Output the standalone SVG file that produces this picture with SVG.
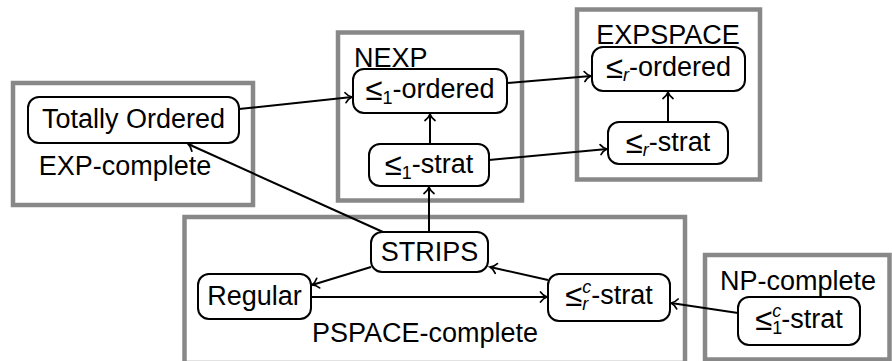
<svg xmlns="http://www.w3.org/2000/svg" width="892" height="361" viewBox="0 0 892 361">
<style>
.box{fill:none;stroke:#888;stroke-width:4.5}
.node rect{fill:#fff;stroke:#000;stroke-width:2}
.t{font-family:"Liberation Sans",Arial,sans-serif;font-size:27px;fill:#000}
.s{font-size:18px}
.le{font-size:31px}
.i{font-style:italic}
.e line{stroke:#000;stroke-width:2;marker-end:url(#ah)}
</style>
<defs>
<marker id="ah" markerUnits="userSpaceOnUse" markerWidth="14" markerHeight="14" viewBox="-8 -7 10 14" refX="0" refY="0" orient="auto">
<path d="M-6.5,-5 C-4.5,-2.2 -1.8,-0.6 0,0 C-1.8,0.6 -4.5,2.2 -6.5,5" fill="none" stroke="#000" stroke-width="1.7" stroke-linecap="round"/>
</marker>
</defs>
<g id="classes">
<g id="exp-box"><rect class="box" x="13" y="83" width="240" height="122"/><text class="t" x="125" y="175" text-anchor="middle">EXP-complete</text></g>
<g id="nexp-box"><rect class="box" x="338" y="32.5" width="184" height="168"/><text class="t" x="354" y="67">NEXP</text></g>
<g id="expspace-box"><rect class="box" x="577" y="9.5" width="183" height="170"/><text class="t" x="668" y="44" text-anchor="middle">EXPSPACE</text></g>
<g id="pspace-box"><rect class="box" x="184.5" y="217" width="500.5" height="146"/><text class="t" x="425" y="342" text-anchor="middle">PSPACE-complete</text></g>
<g id="np-box"><rect class="box" x="705" y="255" width="184.5" height="104.5"/><text class="t" x="798" y="290" text-anchor="middle">NP-complete</text></g>
</g>
<g id="connectors" class="e">
<line x1="239" y1="109" x2="352" y2="97"/>
<line x1="507" y1="83" x2="591" y2="76"/>
<line x1="430" y1="144" x2="430" y2="114"/>
<line x1="489" y1="160" x2="607" y2="149"/>
<line x1="668" y1="122" x2="668" y2="92"/>
<line x1="383" y1="232" x2="188" y2="144"/>
<line x1="429" y1="232" x2="429" y2="187"/>
<line x1="371" y1="267" x2="312" y2="285"/>
<line x1="311" y1="297" x2="547" y2="297"/>
<line x1="548" y1="280" x2="490" y2="267"/>
<line x1="738" y1="313" x2="671" y2="303"/>
</g>
<g id="n-totally" class="node"><rect x="28" y="97" width="211" height="46" rx="11"/><text class="t" x="133.5" y="128" text-anchor="middle">Totally Ordered</text></g>
<g id="n-1ordered" class="node"><rect x="353" y="69" width="154" height="44" rx="11"/><text class="t" x="430" y="98" text-anchor="middle"><tspan class="le" dy="2">≤</tspan><tspan class="s" dy="4">1</tspan><tspan dy="-6">-ordered</tspan></text></g>
<g id="n-1strat" class="node"><rect x="369" y="144" width="120" height="42" rx="11"/><text class="t" x="429" y="173" text-anchor="middle"><tspan class="le" dy="2">≤</tspan><tspan class="s" dy="4">1</tspan><tspan dy="-6">-strat</tspan></text></g>
<g id="n-rordered" class="node"><rect x="592" y="47" width="153" height="44" rx="11"/><text class="t" x="668.5" y="76" text-anchor="middle"><tspan class="le" dy="2">≤</tspan><tspan class="s i" dy="3">r</tspan><tspan dy="-5">-ordered</tspan></text></g>
<g id="n-rstrat" class="node"><rect x="608" y="122" width="120" height="42" rx="11"/><text class="t" x="668" y="151" text-anchor="middle"><tspan class="le" dy="2">≤</tspan><tspan class="s i" dy="3">r</tspan><tspan dy="-5">-strat</tspan></text></g>
<g id="n-strips" class="node"><rect x="371" y="232" width="117" height="40" rx="11"/><text class="t" x="429.5" y="261" text-anchor="middle">STRIPS</text></g>
<g id="n-regular" class="node"><rect x="198" y="274" width="113" height="45" rx="11"/><text class="t" x="254.5" y="305" text-anchor="middle">Regular</text></g>
<g id="n-rcstrat" class="node"><rect x="548" y="274" width="122" height="47" rx="11"/><text class="t" x="609" y="304" text-anchor="middle"><tspan class="le" dy="2">≤</tspan><tspan class="s i" dy="-13">c</tspan><tspan class="s i" dx="-9" dy="17">r</tspan><tspan dx="3" dy="-6">-strat</tspan></text></g>
<g id="n-1cstrat" class="node"><rect x="738" y="297" width="122" height="48" rx="11"/><text class="t" x="799" y="328" text-anchor="middle"><tspan class="le" dy="2">≤</tspan><tspan class="s i" dy="-13">c</tspan><tspan class="s" dx="-9" dy="17">1</tspan><tspan dx="-1" dy="-6">-strat</tspan></text></g>
</svg>
